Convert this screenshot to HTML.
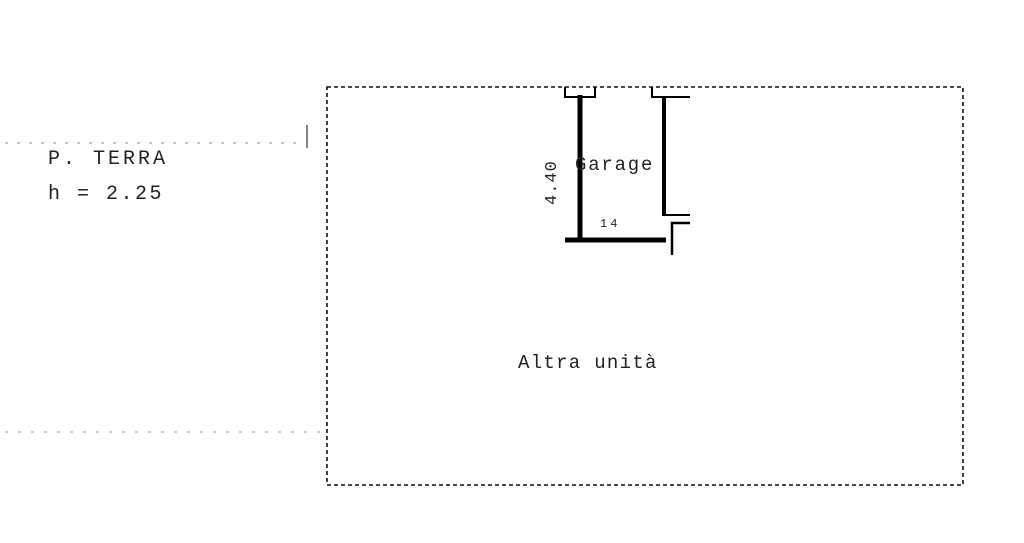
<!DOCTYPE html>
<html><head><style>
body{margin:0;background:#fff;width:1024px;height:543px;overflow:hidden}
svg{display:block}
text{font-family:"Liberation Mono",monospace;fill:#222}
</style></head><body>
<svg width="1024" height="543" viewBox="0 0 1024 543">
<rect x="327" y="87" width="636" height="398" fill="none" stroke="#111" stroke-width="1.6" stroke-dasharray="4,3"/>
<line x1="5" y1="143" x2="300" y2="143" stroke="#888" stroke-width="1" stroke-dasharray="3,9"/>
<line x1="307" y1="125" x2="307" y2="148" stroke="#333" stroke-width="1.2"/>
<line x1="5" y1="432" x2="330" y2="432" stroke="#999" stroke-width="1" stroke-dasharray="3,10"/>
<g stroke="#000" fill="none">
<line x1="580" y1="95" x2="580" y2="242" stroke-width="5"/>
<line x1="664" y1="97" x2="664" y2="216" stroke-width="4"/>
<line x1="565" y1="240" x2="666" y2="240" stroke-width="5"/>
<polyline points="565,87 565,97 595,97 595,87" stroke-width="2"/>
<polyline points="652,87 652,97 690,97" stroke-width="2"/>
<line x1="664" y1="215" x2="690" y2="215" stroke-width="2"/>
<polyline points="690,223 672,223 672,255" stroke-width="2.5"/>
</g>
<text x="575" y="170" font-size="19" letter-spacing="1.8">Garage</text>
<text x="600" y="227" font-size="12" letter-spacing="3">14</text>
<text transform="translate(556,205) rotate(-90)" font-size="17" letter-spacing="1">4.40</text>
<text x="48" y="164" font-size="20" letter-spacing="3">P. TERRA</text>
<text x="48" y="199" font-size="20" letter-spacing="2.5">h = 2.25</text>
<text x="518" y="368" font-size="19" letter-spacing="1.3">Altra unità</text>
</svg>
</body></html>
